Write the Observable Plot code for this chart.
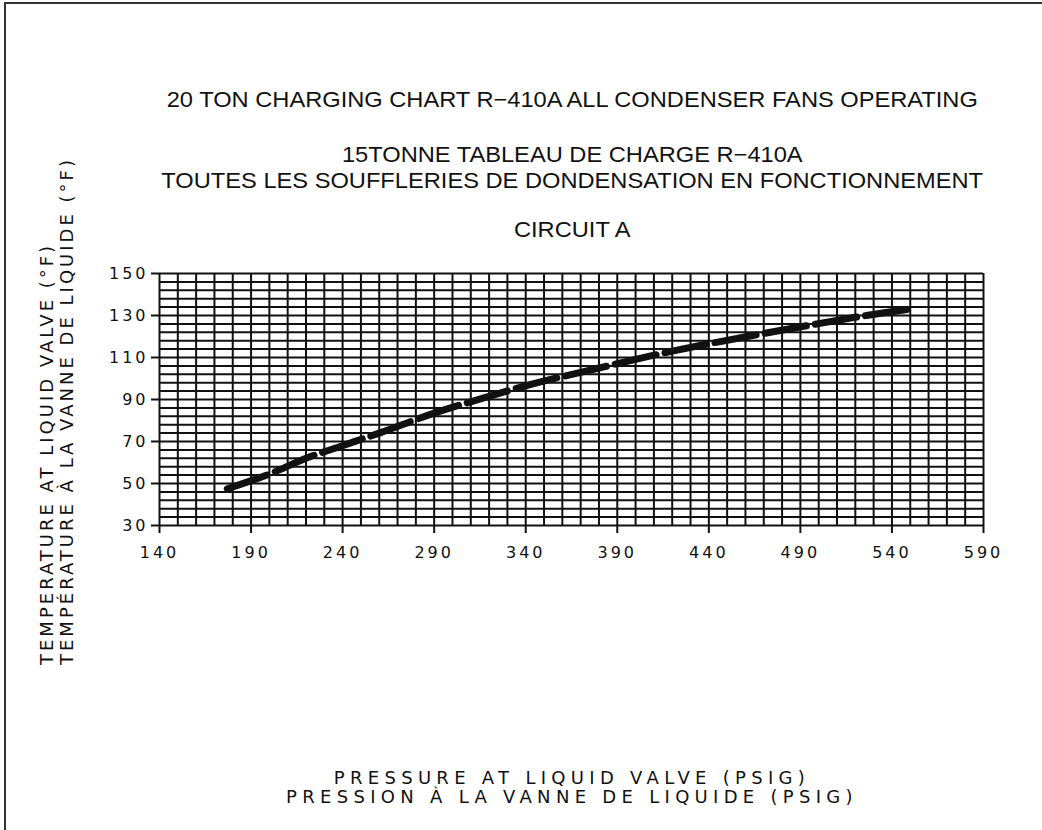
<!DOCTYPE html>
<html>
<head>
<meta charset="utf-8">
<script src="https://cdn.jsdelivr.net/npm/d3@7"></script>
<script src="https://cdn.jsdelivr.net/npm/@observablehq/plot@0.6"></script>
<style>
  body { margin: 0; background: #fff; }
  #wrap { position: relative; width: 1042px; height: 830px; overflow: hidden; background: #fff; }
  #frame { position: absolute; left: 4px; top: 2px; width: 1100px; height: 900px;
           border-top: 2px solid #333; border-left: 2px solid #333; }
  #chart { position: absolute; left: 0; top: 0; }
  .title { position: absolute; left: 72px; width: 1000px; text-align: center; white-space: nowrap;
           font-family: "Liberation Sans", Arial, sans-serif; font-size: 22px; color: #111; line-height: 24px; height: 24px; }
  .title span { display: inline-block; transform-origin: 50% 50%; transform: scaleX(1.075); line-height: 24px; }
  .axlab { position: absolute; white-space: nowrap; font-family: "DejaVu Sans", sans-serif;
           color: #111; font-size: 18px; line-height: 20px; }
  #chart svg text { fill: #111; }
  #chart g[aria-label="x-axis tick label"] text,
  #chart g[aria-label="y-axis tick label"] text { letter-spacing: 3px; }
</style>
</head>
<body>
<div id="wrap">
  <div id="frame"></div>
  <div id="chart"></div>
</div>
<script>
// ---- data ----
const pressure    = [177, 200, 220, 240, 260, 290, 320, 340, 380, 420, 464, 494, 526, 552];
const temperature = [47.5, 54.5, 62, 68, 74, 83.5, 91.5, 96.5, 105, 113, 120.5, 125.2, 130, 133.3];
const xTicks = [140, 190, 240, 290, 340, 390, 440, 490, 540, 590];
const yTicks = [30, 50, 70, 90, 110, 130, 150];
const titleLines = [
  "20 TON CHARGING CHART R\u2212410A ALL CONDENSER FANS OPERATING",
  "15TONNE TABLEAU DE CHARGE R\u2212410A",
  "TOUTES LES SOUFFLERIES DE DONDENSATION EN FONCTIONNEMENT",
  "CIRCUIT A"
];
const yLabelLines = ["TEMPERATURE AT LIQUID VALVE (\u00B0F)", "TEMP\u00C9RATURE \u00C0 LA VANNE DE LIQUIDE (\u00B0F)"];
const xLabelLines = ["PRESSURE AT LIQUID VALVE (PSIG)", "PRESSION \u00C0 LA VANNE DE LIQUIDE (PSIG)"];

const data = pressure.map((p, i) => ({p, t: temperature[i]}));
const xGrid = d3.range(140, 591, 10);
const yGrid = d3.range(30, 151, 4);

const plot = Plot.plot({
  width: 1042,
  height: 830,
  marginLeft: 159,
  marginRight: 59,
  marginTop: 273,
  marginBottom: 305,
  style: { fontFamily: "DejaVu Sans, sans-serif", fontSize: "16px", background: "transparent", color: "#111" },
  x: { domain: [140, 590], label: null },
  y: { domain: [30, 150], label: null },
  marks: [
    Plot.ruleX(xGrid, { stroke: "#111", strokeWidth: 2 }),
    Plot.ruleY(yGrid, { stroke: "#111", strokeWidth: 2 }),
    Plot.line(data, { x: "p", y: "t", stroke: "#111", strokeWidth: 7, strokeDasharray: "42,9", curve: "monotone-x" }),
    Plot.axisX({ ticks: xTicks, tickSize: 8, tickPadding: 13, tickFormat: d => String(d), stroke: "#111", strokeWidth: 2 }),
    Plot.axisY({ ticks: yTicks, tickSize: 8, tickPadding: 3, tickFormat: d => String(d), stroke: "#111", strokeWidth: 2 })
  ]
});
document.getElementById("chart").appendChild(plot);

const wrap = document.getElementById("wrap");
// titles
const titleCenters = [100, 155, 181, 230];
titleLines.forEach((txt, i) => {
  const d = document.createElement("div");
  d.className = "title";
  d.style.top = (titleCenters[i] - 12) + "px";
  const s = document.createElement("span");
  s.textContent = txt;
  d.appendChild(s);
  wrap.appendChild(d);
});
// y-axis label (rotated, starting at bottom)
const yCols = [47, 67];
yLabelLines.forEach((txt, i) => {
  const d = document.createElement("div");
  d.className = "axlab";
  d.textContent = txt;
  d.style.letterSpacing = "3px";
  d.style.left = yCols[i] + "px";
  d.style.top = "665px";
  d.style.transformOrigin = "0 0";
  d.style.transform = "rotate(-90deg) translate(0, -10px)";
  wrap.appendChild(d);
});
// x-axis label
const xRows = [778, 797];
xLabelLines.forEach((txt, i) => {
  const d = document.createElement("div");
  d.className = "axlab";
  d.textContent = txt;
  d.style.letterSpacing = "5.3px";
  d.style.left = "72px";
  d.style.width = "1000px";
  d.style.textAlign = "center";
  d.style.top = (xRows[i] - 10) + "px";
  wrap.appendChild(d);
});
</script>
</body>
</html>
